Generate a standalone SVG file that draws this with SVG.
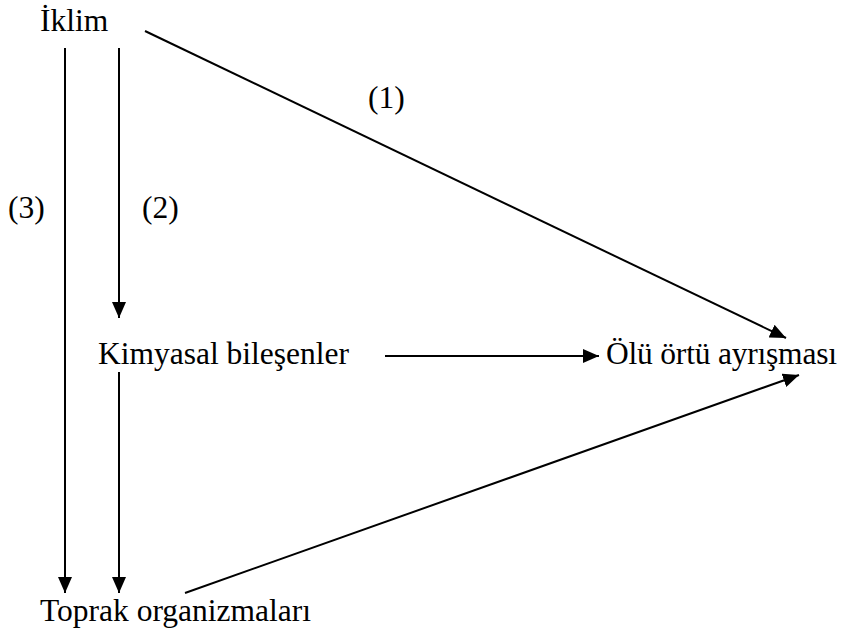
<svg xmlns="http://www.w3.org/2000/svg" width="846" height="630" viewBox="0 0 846 630">
<style>
text{font-family:"Liberation Serif","Times New Roman",serif;font-size:31.5px;fill:#000}
.c line{stroke:#000;stroke-width:2;marker-end:url(#ah)}
</style>
<defs>
<marker id="ah" markerUnits="userSpaceOnUse" markerWidth="18" markerHeight="14" refX="16" refY="7" orient="auto">
<path d="M0,0 L16,7 L0,14 Z" fill="#000"/>
</marker>
</defs>
<rect width="846" height="630" fill="#fff"/>
<g id="iklim"><text x="40" y="31">İklim</text></g>
<g id="kimyasal"><text x="98" y="364">Kimyasal bileşenler</text></g>
<g id="olu"><text x="606" y="364" textLength="231" lengthAdjust="spacing">Ölü örtü ayrışması</text></g>
<g id="toprak"><text x="40" y="621">Toprak organizmaları</text></g>
<g id="labels">
<text x="368" y="108">(1)</text>
<text x="142" y="218">(2)</text>
<text x="8" y="218">(3)</text>
</g>
<g class="c" id="connectors">
<line x1="145" y1="31" x2="786" y2="338"/>
<line x1="119" y1="48" x2="119" y2="318"/>
<line x1="65" y1="48" x2="65" y2="593"/>
<line x1="119" y1="372" x2="119" y2="593"/>
<line x1="385" y1="356" x2="599" y2="356"/>
<line x1="185" y1="593" x2="799" y2="375"/>
</g>
</svg>
